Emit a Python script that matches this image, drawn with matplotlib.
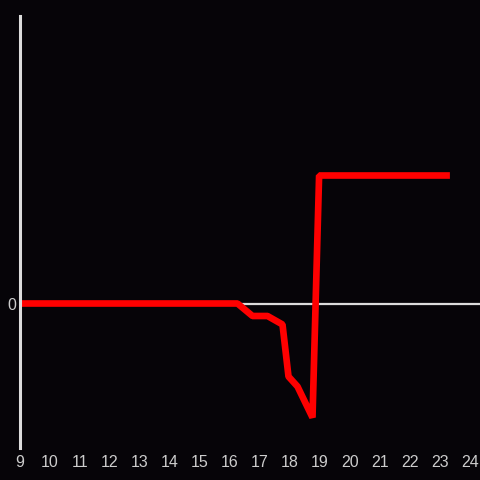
import matplotlib
matplotlib.use("Agg")
import matplotlib.pyplot as plt

# hora del dia y valor (unidades arbitrarias)
horas = [9.0, 16.25, 16.75, 17.25, 17.75, 17.95, 18.25, 18.75, 18.97, 23.33]
valores = [0, 0, -1.25, -1.25, -2.1, -7.3, -8.3, -11.4, 12.8, 12.8]
ticks_x = list(range(9, 25))

fondo = '#060408'
gris = '#dcdcdc'

fig = plt.figure(figsize=(4.8, 4.8), dpi=100, facecolor=fondo)
ax = fig.add_axes([20/480, 32/480, 460/480, 432/480])
ax.set_facecolor(fondo)

ax.axhline(0, color=gris, lw=1.6, zorder=1)
ax.plot(horas, valores, color='#ff0000', lw=4.8, zorder=2,
        solid_joinstyle='bevel', solid_capstyle='butt')

ax.set_xlim(9, 9 + 460/30)
ax.set_ylim(-14.45, 28.75)
ax.set_xticks(ticks_x)
ax.set_yticks([0])

for s in ['top', 'right', 'bottom']:
    ax.spines[s].set_visible(False)
ax.spines['left'].set_color(gris)
ax.spines['left'].set_linewidth(2.2)

ax.tick_params(length=0, colors='#cccccc', labelsize=11.5, pad=5)
for lab in ax.get_xticklabels() + ax.get_yticklabels():
    lab.set_family('Liberation Sans')
ax.tick_params(axis='y', pad=3)

fig.savefig('out.png', dpi=100, facecolor=fondo)
